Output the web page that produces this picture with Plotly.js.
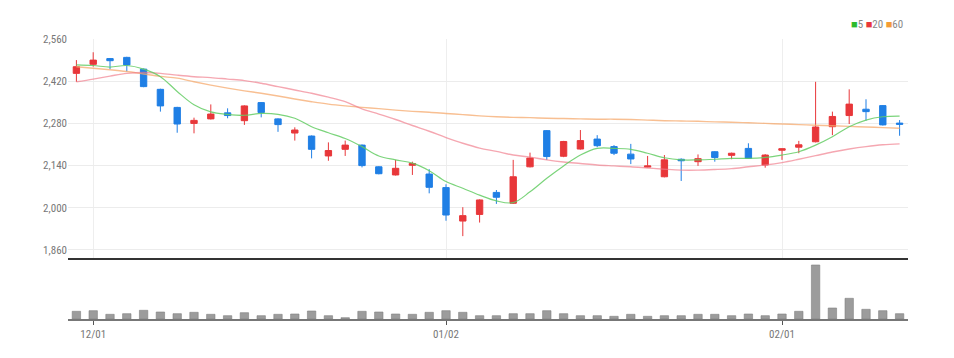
<!DOCTYPE html>
<html>
<head>
<meta charset="utf-8">
<script src="https://cdn.plot.ly/plotly-3.0.1.min.js"></script>
<style>html,body{margin:0;padding:0;background:#fff;}#chart{width:954px;height:358px;}</style>
</head>
<body>
<div id="chart"></div>
<script>
const dates = ["11/30",
 "12/01","12/02","12/05","12/06","12/07","12/08","12/09","12/12","12/13","12/14","12/15","12/16","12/19","12/20","12/21","12/22","12/23","12/26","12/27","12/28","12/29",
 "01/02","01/03","01/04","01/05","01/06","01/09","01/10","01/11","01/12","01/13","01/16","01/17","01/18","01/19","01/20","01/25","01/26","01/27","01/30","01/31",
 "02/01","02/02","02/03","02/06","02/07","02/08","02/09","02/10"];
const openP  = [2446,2476,2495,2499,2460,2393,2333,2280,2295,2315,2289,2349,2295,2248,2238,2172,2194,2208,2136,2109,2141,2112,2067,1956,1978,2051,2015,2136,2256,2171,2195,2228,2203,2178,2135,2103,2161,2153,2186,2174,2197,2142,2191,2201,2219,2269,2306,2327,2339,2281];
const highP  = [2490,2516,2497,2501,2462,2395,2335,2299,2343,2330,2340,2351,2297,2267,2240,2217,2223,2210,2138,2159,2153,2128,2078,2002,2028,2059,2159,2183,2258,2222,2258,2241,2208,2212,2172,2175,2164,2177,2188,2183,2214,2178,2197,2222,2418,2319,2393,2360,2341,2291];
const lowP   = [2418,2468,2460,2452,2400,2319,2249,2247,2293,2297,2275,2300,2252,2223,2164,2156,2172,2134,2111,2107,2109,2048,1957,1906,1951,2013,2013,2134,2159,2168,2193,2201,2175,2145,2134,2101,2089,2139,2153,2161,2162,2133,2159,2181,2217,2241,2278,2289,2273,2239];
const closeP = [2468,2490,2488,2474,2402,2338,2278,2290,2311,2306,2338,2316,2276,2258,2194,2190,2208,2140,2113,2131,2147,2068,1976,1974,2026,2035,2103,2165,2170,2220,2223,2206,2181,2162,2139,2159,2156,2163,2167,2181,2164,2175,2196,2209,2268,2303,2344,2319,2275,2277];
const volume = [77000,83000,47000,53000,87000,70000,53000,67000,47000,33000,63000,33000,47000,50000,80000,33000,13000,77000,70000,50000,47000,67000,83000,67000,33000,33000,53000,53000,83000,53000,33000,33000,27000,47000,27000,33000,33000,47000,47000,33000,50000,33000,50000,77000,540000,110000,207000,97000,83000,53000];
const ma5  = [2474,2472,2467,2472,2460,2435,2386,2342,2318,2310,2307,2313,2310,2297,2269,2249,2230,2203,2172,2159,2148,2123,2087,2065,2042,2023,2017,2053,2098,2139,2175,2197,2197,2194,2181,2166,2159,2159,2161,2164,2164,2167,2175,2186,2208,2236,2269,2291,2302,2304];
const ma20 = [2418,2427,2437,2446,2449,2446,2440,2435,2432,2427,2422,2413,2402,2391,2380,2367,2352,2328,2311,2293,2273,2254,2233,2214,2198,2187,2175,2168,2159,2152,2147,2142,2139,2136,2132,2128,2125,2125,2127,2130,2136,2142,2150,2161,2173,2185,2195,2203,2209,2212];
const ma60 = [2468,2463,2458,2452,2444,2436,2430,2418,2407,2397,2388,2380,2371,2361,2352,2344,2338,2333,2329,2324,2320,2317,2313,2309,2305,2302,2300,2299,2297,2296,2295,2294,2294,2293,2291,2289,2288,2287,2285,2284,2282,2280,2278,2276,2274,2272,2270,2268,2266,2264];
const priceTicks = [1860,2000,2140,2280,2420,2560];
const dateTicks = ["12/01","01/02","02/01"];

const fontFam = '"Liberation Sans Narrow","Arial Narrow","Roboto Condensed",Roboto,sans-serif';
const UP = '#e8373a', DOWN = '#1f7fe5';

const traces = [
  {type:'scatter', mode:'lines', x:dates, y:ma60, xaxis:'x', yaxis:'y', line:{color:'rgba(246,170,110,0.75)', width:1.4, shape:'spline', smoothing:1}, hoverinfo:'skip'},
  {type:'scatter', mode:'lines', x:dates, y:ma20, xaxis:'x', yaxis:'y', line:{color:'rgba(240,120,135,0.65)', width:1.4, shape:'spline', smoothing:1}, hoverinfo:'skip'},
  {type:'scatter', mode:'lines', x:dates, y:ma5, xaxis:'x', yaxis:'y', line:{color:'rgba(100,205,100,0.85)', width:1.2, shape:'spline', smoothing:1}, hoverinfo:'skip'},
  {type:'candlestick', x:dates, open:openP, high:highP, low:lowP, close:closeP, xaxis:'x', yaxis:'y',
   increasing:{line:{color:UP, width:1}, fillcolor:UP},
   decreasing:{line:{color:DOWN, width:1}, fillcolor:DOWN},
   whiskerwidth:0},
  {type:'bar', x:dates, y:volume, xaxis:'x2', yaxis:'y2', width:0.5,
   marker:{color:'#9c9c9c', line:{color:'#808080', width:0.6}}}
];

const layout = {
  width:954, height:358,
  margin:{l:68, r:46, t:39, b:39, pad:0},
  paper_bgcolor:'#ffffff', plot_bgcolor:'#ffffff',
  showlegend:false,
  boxgap:0.46,
  font:{family:fontFam, size:11, color:'#777'},
  xaxis:{type:'category', domain:[0,1], anchor:'y', range:[-0.5,49.5],
    tickvals:dateTicks, showticklabels:false, ticks:'',
    showgrid:true, gridcolor:'#eeeeee', gridwidth:1,
    showline:true, linecolor:'#333333', linewidth:2,
    rangeslider:{visible:false}, fixedrange:true},
  yaxis:{domain:[0.219,1], range:[1834.5,2560], tickvals:priceTicks, tickformat:',d',
    showgrid:true, gridcolor:'#ececec', gridwidth:1, zeroline:false, showline:false,
    ticks:'', tickfont:{family:fontFam, size:11, color:'#777'}, fixedrange:true},
  xaxis2:{type:'category', domain:[0,1], anchor:'y2', range:[-0.5,49.5],
    tickvals:dateTicks, ticks:'outside', ticklen:4, tickwidth:1, tickcolor:'#555',
    showgrid:false, showline:true, linecolor:'#777', linewidth:1.5,
    tickfont:{family:fontFam, size:11, color:'#777'}, fixedrange:true},
  yaxis2:{domain:[0,0.2], range:[0,560000], showticklabels:false, showgrid:false,
    zeroline:false, showline:false, ticks:'', fixedrange:true},
  annotations:[{
    xref:'paper', yref:'paper', x:0.997, y:1.05, xanchor:'right', yanchor:'middle',
    showarrow:false, font:{family:fontFam, size:11, color:'#888'},
    text:'<span style="color:#2dbb2d">■</span>5 <span style="color:#e8373a">■</span>20 <span style="color:#f39c35">■</span>60'
  }]
};

Plotly.newPlot('chart', traces, layout, {displayModeBar:false, staticPlot:true});
</script>
</body>
</html>
